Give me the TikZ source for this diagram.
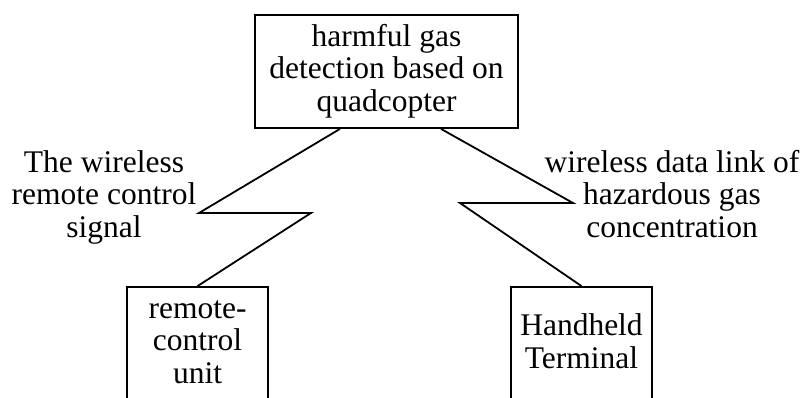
\documentclass[tikz,border=0pt]{standalone}
\usepackage{fontspec}
\setmainfont{Liberation Serif}
\usetikzlibrary{calc}
\begin{document}
\begin{tikzpicture}[x=1pt,y=-1pt,
  box/.style={draw,line width=1.8pt,inner sep=0pt,minimum width=141pt},
  txt/.style={align=center,inner sep=0pt,font=\fontsize{31.5}{32.5}\selectfont},
  link/.style={line width=1.8pt,line join=miter}]
\useasboundingbox (0,0) rectangle (803,398);
\clip (0,0) rectangle (803,398);
% boxes
\node[box,minimum width=263pt,minimum height=113pt] (top) at (386.5,71.5) {};
\node[txt] (topt) at (386.5,71.2) {harmful gas\\detection based on\\quadcopter};
\node[box,minimum height=140pt] (rcu) at (197.5,357) {};
\node[txt] (rcut) at (197.5,342) {remote-\\control\\unit};
\node[box,minimum height=140pt] (hh) at (581.5,357) {};
\node[txt] (hht) at (581.5,341) {Handheld\\Terminal};
% labels
\node[txt] (ll) at (104,197) {The wireless\\remote control\\signal};
\node[txt] (rl) at (672,194) {wireless data link of\\hazardous gas\\concentration};
% zigzag corners
\coordinate (l1) at (199,213);
\coordinate (l2) at (311,213);
\coordinate (r1) at (573,203);
\coordinate (r2) at (460,203);
\draw[link] ($(top.south)+(-46.5,0)$) -- (l1) -- (l2) -- (rcu.north);
\draw[link] ($(top.south)+(54.5,0)$) -- (r1) -- (r2) -- (hh.north);
\end{tikzpicture}
\end{document}
